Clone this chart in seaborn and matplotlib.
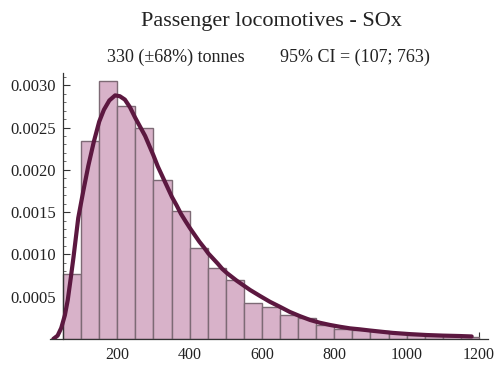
import numpy as np
import pandas as pd
import matplotlib
matplotlib.use("Agg")
import matplotlib.pyplot as plt
from matplotlib.ticker import MultipleLocator, FixedLocator, FuncFormatter
import seaborn as sns

# Histogram of simulated annual SOx emissions (density per tonne)
bin_edges = [50, 100, 150, 200, 250, 300, 350, 400, 450, 500, 550, 600,
             650, 700, 750, 800, 850, 900, 950, 1000, 1050, 1100, 1150, 1200]
bin_density = [0.00077, 0.00234, 0.00305, 0.00276, 0.00249, 0.00188,
               0.00151, 0.00108, 0.00084, 0.00070, 0.00043, 0.00038,
               0.00028, 0.00025, 0.00016, 0.00012, 0.00011, 0.00009,
               0.00007, 0.00005, 0.00004, 0.00003, 0.00002]

# Fitted density curve
fit_x = [23, 35, 45, 55, 63, 71, 79, 92, 106, 120, 135, 150, 163, 178, 194,
         207, 221, 235, 249, 263, 277, 288, 300, 312, 325, 338, 351, 364,
         376, 389, 401, 414, 427, 440, 452, 465, 478, 490, 503, 530, 567,
         594, 622, 650, 677, 705, 733, 760, 788, 815, 843, 871, 899, 930,
         962, 1008, 1055, 1100, 1147, 1180]
fit_y = [0.0, 0.00004, 0.00013, 0.00028, 0.00046, 0.00071, 0.00097, 0.00143,
         0.00175, 0.00205, 0.00233, 0.00257, 0.00271, 0.00282, 0.00288,
         0.00287, 0.00283, 0.00274, 0.00262, 0.00251, 0.00240, 0.00229,
         0.00217, 0.00204, 0.00192, 0.00180, 0.00168, 0.00158, 0.00148,
         0.00139, 0.00131, 0.00123, 0.00115, 0.00108, 0.00101, 0.00095,
         0.00089, 0.00083, 0.00078, 0.00069, 0.00058, 0.00051, 0.00044,
         0.00038, 0.00032, 0.00027, 0.000225, 0.000192, 0.000166, 0.000145,
         0.000126, 0.000114, 0.000100, 0.000086, 0.000072, 0.000058,
         0.000047, 0.000040, 0.000035, 0.00003]

y_ticks = [0.0005, 0.0010, 0.0015, 0.0020, 0.0025, 0.0030]
x_ticks = [200, 400, 600, 800, 1000, 1200]

title = "Passenger locomotives - SOx"
summary = "330 (\u00b168%) tonnes"
interval = "95% CI = (107; 763)"

sns.set_style("white")
plt.rcParams["font.family"] = ["Liberation Serif", "DejaVu Serif"]

fig = plt.figure(figsize=(4.95, 3.66), dpi=100)
ax = fig.add_axes([0.1018, 0.0738, 0.884, 0.728])

mids = [(a + b) / 2 for a, b in zip(bin_edges[:-1], bin_edges[1:])]
hist_df = pd.DataFrame({"tonnes": mids, "density": bin_density})
sns.histplot(data=hist_df, x="tonnes", weights="density", bins=bin_edges,
             color="#d8b2c9", edgecolor="#7d6a75", linewidth=1.0, alpha=1.0,
             ax=ax)

curve_df = pd.DataFrame({"tonnes": fit_x, "density": fit_y})
sns.lineplot(data=curve_df, x="tonnes", y="density", color="#5c1840",
             linewidth=3.0, ax=ax, zorder=5)

ax.set_xlim(15, 1225)
ax.set_ylim(0, 0.00315)
ax.set_xlabel("")
ax.set_ylabel("")

ax.spines["top"].set_visible(False)
ax.spines["right"].set_visible(False)
ax.spines["left"].set_position(("data", 50))
for side in ("left", "bottom"):
    ax.spines[side].set_color("#333333")
    ax.spines[side].set_linewidth(0.9)

ax.xaxis.set_major_locator(FixedLocator(x_ticks))
ax.xaxis.set_minor_locator(MultipleLocator(50))
ax.yaxis.set_major_locator(FixedLocator(y_ticks))
ax.yaxis.set_minor_locator(MultipleLocator(0.0001))
ax.yaxis.set_major_formatter(FuncFormatter(lambda v, p: f"{v:.4f}"))
ax.xaxis.set_major_formatter(FuncFormatter(lambda v, p: f"{v:.0f}"))

ax.tick_params(axis="x", which="both", bottom=True)
ax.tick_params(axis="y", which="both", left=True)
ax.tick_params(axis="both", which="major", direction="in", length=5,
               width=0.8, color="#333333", labelcolor="#222222")
ax.tick_params(axis="both", which="minor", direction="in", length=2.5,
               width=0.6, color="#555555")
ax.tick_params(axis="x", which="major", labelsize=11.5, pad=6)
ax.tick_params(axis="y", which="major", labelsize=12, pad=5)

fig.text(0.548, 0.94, title, ha="center", va="center", fontsize=16,
         color="#222222")
fig.text(0.216, 0.842, summary, ha="left", va="center", fontsize=13,
         color="#222222")
fig.text(0.566, 0.842, interval, ha="left", va="center", fontsize=13,
         color="#222222")

fig.savefig("out.png", dpi=100, facecolor="white")
